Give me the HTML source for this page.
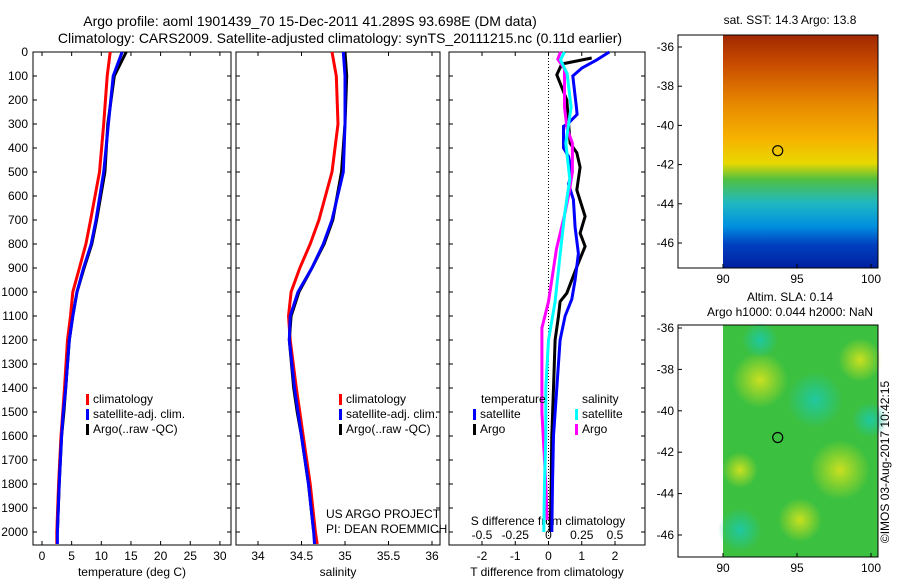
<!DOCTYPE html>
<html><head><meta charset="utf-8"><style>
body{margin:0;background:#fff}
svg{font-family:"Liberation Sans",sans-serif;font-size:12px}
</style></head><body>
<svg id="s" width="900" height="580">
<defs>
<linearGradient id="sst" x1="0" y1="0" x2="0" y2="1">
<stop offset="0" stop-color="#a02800"/><stop offset="0.12" stop-color="#c84a00"/>
<stop offset="0.3" stop-color="#e88a00"/><stop offset="0.45" stop-color="#f6b400"/>
<stop offset="0.55" stop-color="#e8d800"/><stop offset="0.62" stop-color="#50c040"/>
<stop offset="0.72" stop-color="#20b8c0"/><stop offset="0.82" stop-color="#0090e0"/>
<stop offset="0.9" stop-color="#0040c0"/><stop offset="1" stop-color="#0020a0"/>
</linearGradient>
<radialGradient id="blobY"><stop offset="0" stop-color="#c8e020"/><stop offset="1" stop-color="#c8e020" stop-opacity="0"/></radialGradient>
<radialGradient id="blobC"><stop offset="0" stop-color="#20c8a0"/><stop offset="1" stop-color="#20c8a0" stop-opacity="0"/></radialGradient>
</defs>
<g>
<text x="310" y="26" text-anchor="middle" font-size="14">Argo profile: aoml 1901439_70 15-Dec-2011 41.289S 93.698E (DM data)</text>
<text x="340" y="43" text-anchor="middle" font-size="14">Climatology: CARS2009. Satellite-adjusted climatology: synTS_20111215.nc (0.11d earlier)</text>
</g>
<g id="panels"></g>
<g id="maps"></g>
<text x="790" y="24" text-anchor="middle">sat. SST: 14.3 Argo: 13.8</text>
<text x="790" y="301" text-anchor="middle">Altim. SLA: 0.14</text>
<text x="790" y="316" text-anchor="middle">Argo h1000: 0.044 h2000: NaN</text>
<text transform="translate(889,462) rotate(-90)" text-anchor="middle">©IMOS 03-Aug-2017 10:42:15</text>
<text x="326" y="518">US ARGO PROJECT</text>
<text x="326" y="533">PI: DEAN ROEMMICH</text>
</svg>
<script>
const depthTicks=[0,100,200,300,400,500,600,700,800,900,1000,1100,1200,1300,1400,1500,1600,1700,1800,1900,2000];
const tempTicks=[0,5,10,15,20,25,30];
const salTicks=[34,34.5,35,35.5,36];
const tdTicks=[-2,-1,0,1,2];
const sdTicks=[-0.5,-0.25,0,0.25,0.5];
const sdLabels=["-0.5","-0.25","0","0.25","0.5"];
const latTicks=[-36,-38,-40,-42,-44,-46];
const lonTicks=[90,95,100];
// profiles
const depthClim=[0,100,300,500,700,800,900,1000,1100,1200,1400,1500,1600,1800,2000,2050];
const tClim=[11.5,11,10.4,9.7,8.2,7.4,6.3,5.2,4.8,4.3,3.8,3.5,3.2,2.8,2.5,2.5];
const tSat=[13.5,12,11.2,10.4,9.1,8.3,7,5.9,5.2,4.6,4,3.6,3.3,2.9,2.6,2.6];
const tArgo=[14.2,12.2,11.1,10.6,9.2,8.4,7.1,5.9,5.2,4.6,4,3.7,3.3,2.9,2.6];
const sClim=[34.85,34.9,34.92,34.85,34.7,34.6,34.48,34.38,34.35,34.37,34.44,34.48,34.52,34.6,34.66,34.68];
const sSat=[34.98,35.0,35.0,34.98,34.85,34.75,34.62,34.46,34.37,34.36,34.42,34.46,34.5,34.58,34.64,34.65];
const sArgo=[35.0,35.02,35.0,34.96,34.86,34.76,34.62,34.47,34.38,34.36,34.41,34.45,34.5,34.58,34.64];
// differences
const dDepthSat=[0,33,67,100,230,260,300,310,400,435,505,550,615,730,840,950,1030,1100,1200,1400,1600,1800,2000];
const dSat=[1.83,1.45,1.0,0.73,0.84,0.86,0.57,0.45,0.45,0.6,0.7,0.6,0.75,0.8,0.9,0.8,0.7,0.5,0.35,0.25,0.15,0.12,0.1];
const dDepthArgo=[25,50,95,200,380,420,480,575,685,755,810,895,1005,1040,1100,1200,1400,1600,1800,2000];
const dArgo=[1.3,0.4,0.25,0.55,0.65,0.85,0.95,0.85,1.1,0.95,1.1,0.85,0.55,0.35,0.3,0.2,0.15,0.1,0.08,0.05];
const sdDepthSat=[0,33,90,230,380,530,680,830,1040,1200,1400,1600,1800,2000];
const sdSat=[0.12,0.09,0.14,0.17,0.13,0.16,0.12,0.09,0.05,0.0,-0.02,-0.02,-0.03,-0.035];
const sdDepthArgo=[0,30,70,230,320,380,500,600,680,820,1040,1150,1300,1500,1800,1950];
const sdArgo=[0.09,0.07,0.12,0.12,0.14,0.18,0.18,0.15,0.12,0.06,0.0,-0.05,-0.05,-0.05,-0.02,-0.01];
const floatLon=93.698, floatLat=-41.289;

const NS='http://www.w3.org/2000/svg';
function mk(tag,attrs,parent){const e=document.createElementNS(NS,tag);for(const k in attrs)e.setAttribute(k,attrs[k]);parent.appendChild(e);return e;}
const P=document.getElementById('panels'), M=document.getElementById('maps');
const yTop=52, yBot=545;
const yD=d=>yTop+d*0.24;
function panel(name,x0,x1,xs,ticks,labels,xlabel){
  const g=mk('g',{},P);
  
  
  mk('rect',{x:x0,y:yTop,width:x1-x0,height:yBot-yTop,fill:'none',stroke:'#000'},g);
  depthTicks.forEach(d=>{mk('line',{x1:x0,x2:x0+4,y1:yD(d),y2:yD(d),stroke:'#000'},g);mk('line',{x1:x1,x2:x1-4,y1:yD(d),y2:yD(d),stroke:'#000'},g);});
  ticks.forEach((t,i)=>{const x=xs(t);mk('line',{x1:x,x2:x,y1:yBot,y2:yBot-4,stroke:'#000'},g);mk('line',{x1:x,x2:x,y1:yTop,y2:yTop+4,stroke:'#000'},g);
    const tx=mk('text',{x:x,y:yBot+15,'text-anchor':'middle'},g);tx.textContent=labels?labels[i]:String(t);});
  const xl=mk('text',{x:(x0+x1)/2,y:yBot+31,'text-anchor':'middle'},g);xl.textContent=xlabel;
  return g;
}
function line(g,name,xs,vals,depths,color){
  const pts=vals.map((v,i)=>xs(v).toFixed(1)+','+yD(depths[i]).toFixed(1)).join(' ');
  const pl=mk('polyline',{points:pts,fill:'none',stroke:color,'stroke-width':3},g);
  
  
}
function legend(g,x,y,items){
  items.forEach((it,i)=>{mk('rect',{x:x,y:y+i*15-9,width:3,height:11,fill:it[1]},g);
    const t=mk('text',{x:x+7,y:y+i*15},g);t.textContent=it[0];});
}
const gd=mk('g',{},P);


depthTicks.forEach(d=>{const t=mk('text',{x:28,y:yD(d)+4,'text-anchor':'end'},gd);t.textContent=d;});
const xT=t=>42+t*5.93;
const g1=panel('temperature-panel',33,231,xT,tempTicks,null,'temperature (deg C)');
line(g1,'temp-climatology',xT,tClim,depthClim,'#f00');
line(g1,'temp-argo',xT,tArgo,depthClim,'#000');
line(g1,'temp-satellite',xT,tSat,depthClim,'#00f');
legend(g1,86,403,[['climatology','#f00'],['satellite-adj. clim.','#00f'],['Argo(..raw -QC)','#000']]);
const xS=s=>258+(s-34)*87;
const g2=panel('salinity-panel',236,440,xS,salTicks,null,'salinity');
line(g2,'sal-climatology',xS,sClim,depthClim,'#f00');
line(g2,'sal-argo',xS,sArgo,depthClim,'#000');
line(g2,'sal-satellite',xS,sSat,depthClim,'#00f');
legend(g2,339,403,[['climatology','#f00'],['satellite-adj. clim.','#00f'],['Argo(..raw -QC)','#000']]);
const xTD=t=>548.5+t*33.25, xSD=s=>548.5+s*133;
const g3=panel('difference-panel',449,645,xTD,tdTicks,null,'T difference from climatology');
mk('line',{x1:xTD(0),x2:xTD(0),y1:yTop,y2:yBot,stroke:'#000','stroke-dasharray':'1,2'},g3);
sdTicks.forEach((s,i)=>{const t=mk('text',{x:xSD(s),y:yBot-6,'text-anchor':'middle'},g3);t.textContent=sdLabels[i];});
const sl=mk('text',{x:548,y:yBot-20,'text-anchor':'middle'},g3);sl.textContent='S difference from climatology';
line(g3,'tdiff-argo',xTD,dArgo,dDepthArgo,'#000');
line(g3,'tdiff-satellite',xTD,dSat,dDepthSat,'#00f');
line(g3,'sdiff-argo',xSD,sdArgo,sdDepthArgo,'#f0f');
line(g3,'sdiff-satellite',xSD,sdSat,sdDepthSat,'#0ff');
const lt=mk('text',{x:481,y:403},g3);lt.textContent='temperature';
const ls=mk('text',{x:582,y:403},g3);ls.textContent='salinity';
legend(g3,473,418,[['satellite','#00f'],['Argo','#000']]);
legend(g3,575,418,[['satellite','#0ff'],['Argo','#f0f']]);
function map(name,y0,y1,latY0,latS,fill,extra){
  const g=mk('g',{},M);
  
  
  const lonX=l=>723+(l-90)*14.8, latY=l=>latY0+(-36-l)*latS;
  mk('rect',{x:723,y:y0,width:155,height:y1-y0,fill:fill},g);
  if(extra)extra(g);
  mk('rect',{x:678,y:y0,width:200,height:y1-y0,fill:'none',stroke:'#000'},g);
  latTicks.forEach(l=>{mk('line',{x1:678,x2:682,y1:latY(l),y2:latY(l),stroke:'#000'},g);const t=mk('text',{x:674,y:latY(l)+4,'text-anchor':'end'},g);t.textContent=l;});
  lonTicks.forEach(l=>{mk('line',{x1:lonX(l),x2:lonX(l),y1:y1,y2:y1-4,stroke:'#000'},g);const t=mk('text',{x:lonX(l),y:y1+15,'text-anchor':'middle'},g);t.textContent=l;});
  const c=mk('circle',{cx:lonX(floatLon),cy:latY(floatLat),r:5,fill:'none',stroke:'#000','stroke-width':1.2},g);
  
  
}
map('sst-map',35,268,47,19.6,'url(#sst)');
map('sla-map',325,557,328,20.7,'#3cc040',g=>{
  [[760,380,28],[840,470,30],[800,520,22],[860,360,22],[740,470,18]].forEach(b=>mk('circle',{cx:b[0],cy:b[1],r:b[2],fill:'url(#blobY)'},g));
  [[815,400,28],[740,530,22],[870,420,18],[760,340,18]].forEach(b=>mk('circle',{cx:b[0],cy:b[1],r:b[2],fill:'url(#blobC)'},g));
});
</script>
</body></html>
